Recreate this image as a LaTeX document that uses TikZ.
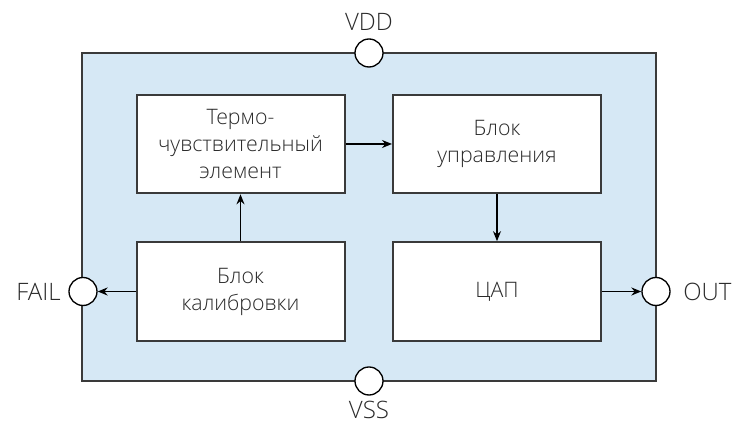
\documentclass[tikz,border=0pt]{standalone}
\usepackage{fontspec}
\setmainfont{Open Sans Light}
\usetikzlibrary{arrows.meta}
\definecolor{chipfill}{HTML}{D6E8F5}
\definecolor{linegray}{HTML}{3A3A3A}
\definecolor{txt}{HTML}{2A2A2A}
\tikzset{
  chipbox/.style={draw=linegray, line width=1.3pt, fill=chipfill, minimum width=430.5pt, minimum height=246pt, inner sep=0pt},
  blockbox/.style={draw=linegray, line width=1.5pt, fill=white, minimum width=156pt, minimum height=74pt, inner sep=0pt, align=center, text=txt, font=\fontsize{16}{20.25}\selectfont},
  pin/.style={circle, draw=black, line width=1pt, fill=white, minimum size=21pt, inner sep=0pt},
  pinlabel/.style={text=txt, font=\fontsize{18}{22}\selectfont, inner sep=0pt},
  arr/.style={-{Stealth[length=7.5pt,width=6pt]}, line width=1.1pt, black}
}
\begin{document}
\begin{tikzpicture}[x=0.75pt,y=-0.75pt]
\useasboundingbox (0,0) rectangle (733,423);
\node[chipbox] (chip) at (369,217) {};
\node[blockbox] (tl) at (240.5,144) {Термо-\\чувствительный\\элемент};
\node[blockbox] (tr) at (497,144) {Блок\\управления};
\node[blockbox] (bl) at (240.5,291.5) {Блок\\калибровки};
\node[blockbox] (br) at (497,291.5) {ЦАП};
\node[pin] (vdd) at (369,53) {};
\node[pin] (vss) at (369,381) {};
\node[pin] (fail) at (83,291.5) {};
\node[pin] (out) at (656,291.5) {};
\node[pinlabel, anchor=base] (vddl) at (369,31) {VDD};
\node[pinlabel, anchor=base] (vssl) at (369,419) {VSS};
\node[pinlabel, anchor=east] (faill) at (61,291.5) {FAIL};
\node[pinlabel, anchor=west] (outl) at (683,291.5) {OUT};
\draw[arr] (tl.east) -- (tr.west);
\draw[arr] (bl.north) -- (tl.south);
\draw[arr] (tr.south) -- (br.north);
\draw[arr] (bl.west) -- (fail.east);
\draw[arr] (br.east) -- (out.west);
\end{tikzpicture}
\end{document}
